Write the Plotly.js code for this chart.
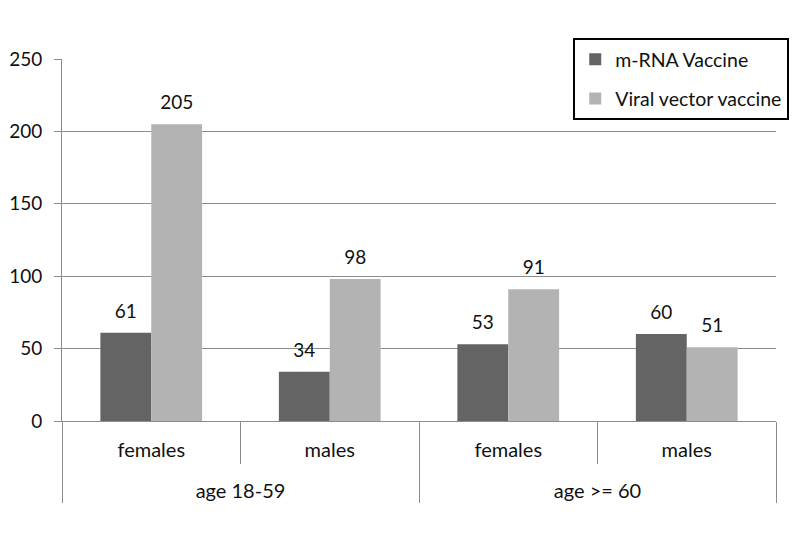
<!DOCTYPE html>
<html>
<head>
<meta charset="utf-8">
<script src="https://cdn.plot.ly/plotly-3.0.1.min.js"></script>
<style>html,body{margin:0;padding:0;background:#fff;}#chart{width:800px;height:533px;}</style>
</head>
<body>
<div id="chart"></div>
<script>
var ageGroups = ["age 18-59", "age 18-59", "age >= 60", "age >= 60"];
var sexes = ["females", "males", "females", "males"];
var mrnaValues = [61, 34, 53, 60];
var viralValues = [205, 98, 91, 51];
var seriesNames = ["m-RNA Vaccine", "Viral vector vaccine"];
var yTicks = [0, 50, 100, 150, 200, 250];

var FONT = "Lato, 'Open Sans', sans-serif";
var darkColor = "#646464";
var lightColor = "#b3b3b3";
// outer level labels are pushed one line lower to match the reference spacing
var xCats = [ageGroups.map(function (g) { return "<br>" + g; }), sexes];

var traces = [
  {type: "bar", name: seriesNames[0], x: xCats, y: mrnaValues, marker: {color: darkColor},
   legendgroup: "a", hoverinfo: "skip"},
  {type: "bar", name: seriesNames[1], x: xCats, y: viralValues, marker: {color: lightColor},
   legendgroup: "b", hoverinfo: "skip"},
  {type: "scatter", mode: "markers+text", x: xCats, y: mrnaValues, text: mrnaValues.map(String),
   textposition: "top center", marker: {size: 15, opacity: 0}, showlegend: false,
   textfont: {family: FONT, size: 19, color: "#111"}, hoverinfo: "skip", cliponaxis: false},
  {type: "scatter", mode: "markers+text", x: xCats, y: viralValues, text: viralValues.map(String),
   textposition: "top center", marker: {size: 15, opacity: 0}, showlegend: false,
   textfont: {family: FONT, size: 19, color: "#111"}, hoverinfo: "skip", cliponaxis: false}
];

var layout = {
  width: 800, height: 533,
  margin: {l: 62, r: 24, t: 59, b: 112, autoexpand: false},
  paper_bgcolor: "#fff", plot_bgcolor: "#fff",
  font: {family: FONT, size: 18, color: "#111"},
  barmode: "group", bargap: 0.43, bargroupgap: 0,
  scattermode: "group", scattergap: 0.43,
  showlegend: true,
  legend: {
    x: 0.716, y: 1.058, xanchor: "left", yanchor: "top",
    bgcolor: "#fff", bordercolor: "#000", borderwidth: 2,
    font: {family: FONT, size: 19.5, color: "#111"},
    traceorder: "grouped", tracegroupgap: 11, itemwidth: 30
  },
  xaxis: {
    type: "multicategory",
    showline: true, linecolor: "#8c8c8c", linewidth: 1,
    ticks: "outside", tickson: "boundaries", ticklen: 42, tickcolor: "#8c8c8c",
    showdividers: true, dividercolor: "#8c8c8c", dividerwidth: 1,
    tickfont: {family: FONT, size: 20, color: "#111"},
    ticklabelstandoff: 11,
    showgrid: false, zeroline: false
  },
  yaxis: {
    range: [0, 250], tickvals: yTicks, ticktext: yTicks.map(String),
    showgrid: true, gridcolor: "#8c8c8c", gridwidth: 1,
    showline: true, linecolor: "#8c8c8c", linewidth: 1,
    ticks: "outside", ticklen: 7, tickcolor: "#8c8c8c",
    tickfont: {family: FONT, size: 19, color: "#111"},
    zeroline: false, ticklabelstandoff: 8
  }
};

Plotly.newPlot("chart", traces, layout, {staticPlot: true, displayModeBar: false});
</script>
</body>
</html>
